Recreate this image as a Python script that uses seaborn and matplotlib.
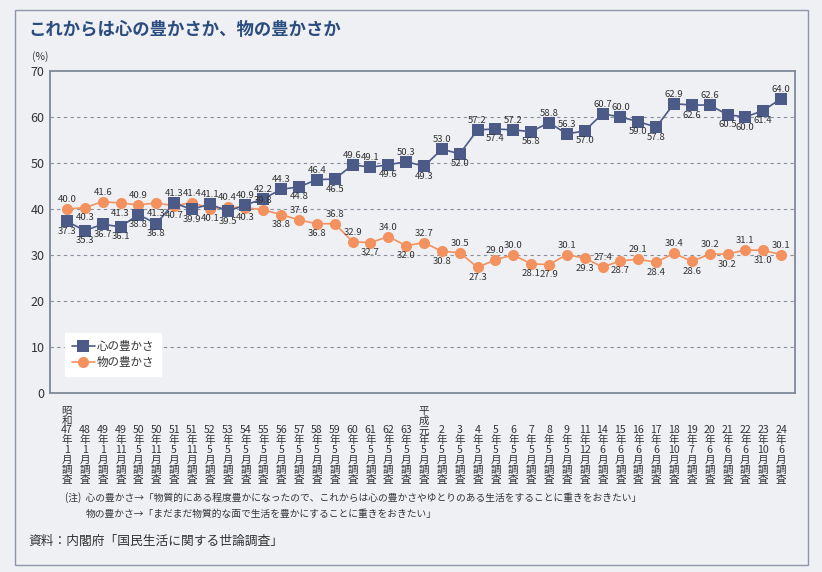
import re
import matplotlib
matplotlib.use('Agg')
import matplotlib.pyplot as plt
from matplotlib.lines import Line2D
from matplotlib.patches import Rectangle
import seaborn as sns
import pandas as pd

# ---------------- data ----------------
periods = ['昭和47年1月調査', '48年1月調査', '49年1月調査', '49年11月調査', '50年5月調査',
           '50年11月調査', '51年5月調査', '51年11月調査', '52年5月調査', '53年5月調査',
           '54年5月調査', '55年5月調査', '56年5月調査', '57年5月調査', '58年5月調査',
           '59年5月調査', '60年5月調査', '61年5月調査', '62年5月調査', '63年5月調査',
           '平成元年5月調査', '2年5月調査', '3年5月調査', '4年5月調査', '5年5月調査',
           '6年5月調査', '7年5月調査', '8年5月調査', '9年5月調査', '11年12月調査',
           '14年6月調査', '15年6月調査', '16年6月調査', '17年6月調査', '18年10月調査',
           '19年7月調査', '20年6月調査', '21年6月調査', '22年6月調査', '23年10月調査',
           '24年6月調査']

kokoro = [37.3, 35.3, 36.7, 36.1, 38.8, 36.8, 41.3, 39.9, 41.1, 39.5,
          40.9, 42.2, 44.3, 44.8, 46.4, 46.5, 49.6, 49.1, 49.6, 50.3,
          49.3, 53.0, 52.0, 57.2, 57.4, 57.2, 56.8, 58.8, 56.3, 57.0,
          60.7, 60.0, 59.0, 57.8, 62.9, 62.6, 62.6, 60.5, 60.0, 61.4, 64.0]

mono = [40.0, 40.3, 41.6, 41.3, 40.9, 41.3, 40.7, 41.4, 40.1, 40.4,
        40.3, 39.8, 38.8, 37.6, 36.8, 36.8, 32.9, 32.7, 34.0, 32.0,
        32.7, 30.8, 30.5, 27.3, 29.0, 30.0, 28.1, 27.9, 30.1, 29.3,
        27.4, 28.7, 29.1, 28.4, 30.4, 28.6, 30.2, 30.2, 31.1, 31.0, 30.1]

series_names = ['心の豊かさ', '物の豊かさ']
yticks = [0, 10, 20, 30, 40, 50, 60, 70]

# label placement (a = above, b = below)
kokoro_pos = ['b', 'b', 'b', 'b', 'b', 'b', 'a', 'b', 'a', 'b',
              'a', 'a', 'a', 'b', 'a', 'b', 'a', 'a', 'b', 'a',
              'b', 'a', 'b', 'a', 'b', 'a', 'b', 'a', 'a', 'b',
              'a', 'a', 'b', 'b', 'a', 'b', 'a', 'b', 'b', 'b',
              'a']
mono_pos = ['a', 'b', 'a', 'b', 'a', 'b', 'b', 'a', 'b', 'a',
            'b', 'a', 'b', 'a', 'b', 'a', 'a', 'b', 'a', 'b',
            'a', 'b', 'a', 'b', 'a', 'a', 'b', 'b', 'a', 'b',
            'a', 'b', 'a', 'b', 'a', 'b', 'a', 'b', 'a', 'b',
            'a']

title = 'これからは心の豊かさか、物の豊かさか'
note1 = '(注)  心の豊かさ→「物質的にある程度豊かになったので、これからは心の豊かさやゆとりのある生活をすることに重きをおきたい」'
note2 = '物の豊かさ→「まだまだ物質的な面で生活を豊かにすることに重きをおきたい」'
source = '資料：内閣府「国民生活に関する世論調査」'

# ---------------- style ----------------
W, H = 822, 572
BG = '#eef0f4'
NAVY = '#4c5a88'
ORANGE = '#f4925f'
SPINE = '#7f8899'
TXT = '#333333'

sns.set_theme(style='white')
plt.rcParams['font.family'] = ['Noto Sans CJK JP', 'DejaVu Sans']

fig = plt.figure(figsize=(W / 100, H / 100), dpi=100, facecolor=BG)
ax = fig.add_axes([50 / W, 1 - 393 / H, (795 - 50) / W, (393 - 71) / H])
ax.set_facecolor(BG)

n = len(periods)
df = pd.DataFrame({
    'idx': list(range(n)) * 2,
    'value': kokoro + mono,
    'series': [series_names[0]] * n + [series_names[1]] * n,
})

sns.lineplot(data=df, x='idx', y='value', hue='series', style='series',
             hue_order=[series_names[1], series_names[0]],
             style_order=[series_names[1], series_names[0]],
             palette={series_names[0]: NAVY, series_names[1]: ORANGE},
             markers={series_names[0]: 's', series_names[1]: 'o'},
             dashes=False, linewidth=1.2, markersize=8, markeredgewidth=0,
             legend=False, ax=ax)

# value labels
for vals, pos in ((kokoro, kokoro_pos), (mono, mono_pos)):
    for i, v in enumerate(vals):
        up = pos[i] == 'a'
        ax.annotate(f'{v:.1f}', (i, v), xytext=(0, 6.8 if up else -7.2),
                    textcoords='offset points', ha='center',
                    va='center', fontsize=6.9, color=TXT)

ax.set_xlim(-0.95, n - 1 + 0.78)
ax.set_ylim(0, 70)
ax.set_yticks(yticks)
ax.set_yticklabels([str(t) for t in yticks], fontsize=9, color=TXT)
ax.tick_params(axis='y', length=0, pad=4)

def stack(s):
    return '\n'.join(re.findall(r'\d+|.', s))

ax.set_xticks(range(n))
ax.set_xticklabels([stack(p) for p in periods], fontsize=7.6, color=TXT,
                   va='bottom', linespacing=0.98)
ax.tick_params(axis='x', direction='in', length=4, width=1, color=SPINE, pad=66)
ax.set_xlabel('')
ax.set_ylabel('')

for y in yticks[1:-1]:
    ax.axhline(y, color='#8a909c', lw=0.8, linestyle=(0, (3, 3)), zorder=0)

for sp in ax.spines.values():
    sp.set_visible(True)
    sp.set_color(SPINE)
    sp.set_linewidth(1.3)

handles = [Line2D([0], [0], color=NAVY, marker='s', markersize=8, markeredgewidth=0, lw=1.2),
           Line2D([0], [0], color=ORANGE, marker='o', markersize=8, markeredgewidth=0, lw=1.2)]
leg = ax.legend(handles, series_names, loc='lower left', bbox_to_anchor=(0.012, 0.035),
                frameon=True, fancybox=False, fontsize=8.3, handlelength=2.0,
                handletextpad=0.2, borderpad=0.6, labelspacing=0.25)
leg.get_frame().set_facecolor('white')
leg.get_frame().set_edgecolor('white')
leg.get_frame().set_alpha(1)
for t in leg.get_texts():
    t.set_color(TXT)

# outer frame & texts
fig.patches.append(Rectangle((15 / W, 1 - 565 / H), (808 - 15) / W, (565 - 10) / H,
                             transform=fig.transFigure, fill=False,
                             edgecolor='#8e98aa', lw=1.0))
fig.text(28 / W, 1 - 30 / H, title, fontsize=12.5, fontweight='bold',
         color='#2b4c7e', va='center', ha='left')
fig.text(40 / W, 1 - 57 / H, '(%)', fontsize=7.5, color=TXT, va='center', ha='center')
fig.text(65 / W, 1 - 498 / H, note1, fontsize=7, color=TXT, va='center', ha='left')
fig.text(86 / W, 1 - 514 / H, note2, fontsize=7, color=TXT, va='center', ha='left')
fig.text(28 / W, 1 - 541 / H, source, fontsize=9.2, color=TXT, va='center', ha='left')

fig.savefig('out.png', dpi=100, facecolor=BG)
